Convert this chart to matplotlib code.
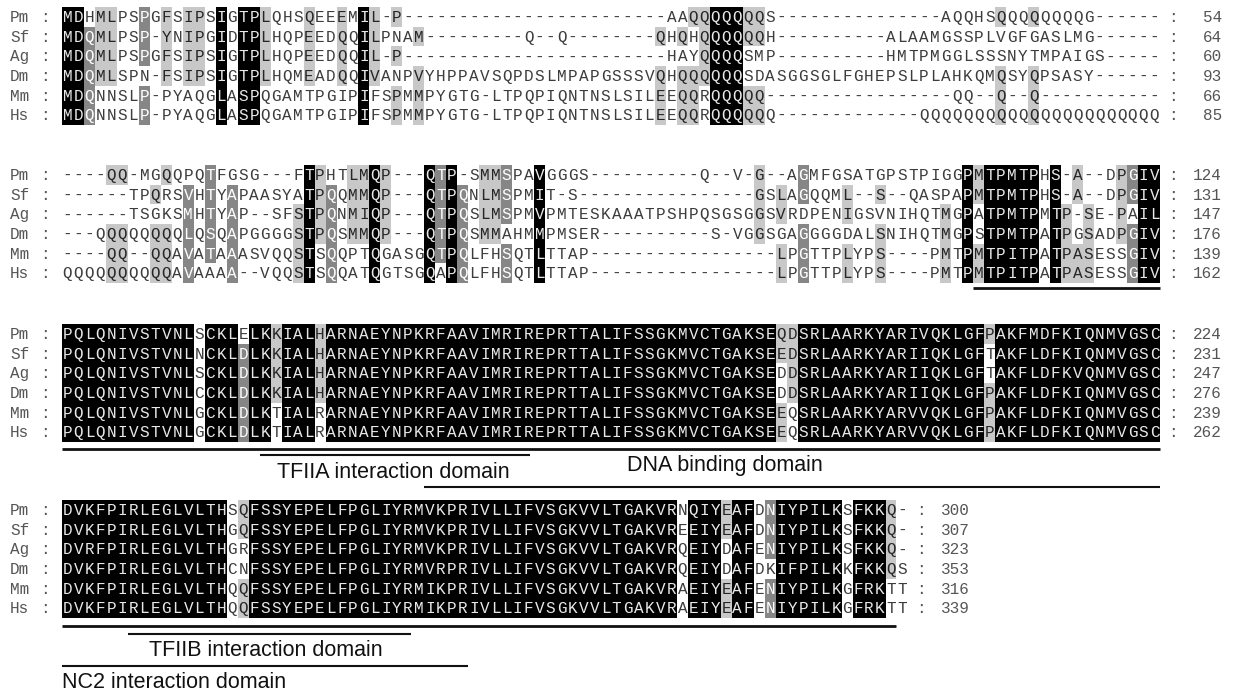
import matplotlib.pyplot as plt
from matplotlib.patches import Rectangle

# sequences (alignment blocks of Pm, Sf, Ag, Dm, Mm, Hs)
species = ['Pm', 'Sf', 'Ag', 'Dm', 'Mm', 'Hs']

block1 = [
    'MDHMLPSPGFSIPSIGTPLQHSQEEEMIL-P' + '-' * 24 + 'AAQQQQQQQS' + '-' * 15 + 'AQQHSQQQQQQQQG' + '-' * 6,
    'MDQMLPSP-YNIPGIDTPLHQPEEDQQILPNAM' + '-' * 9 + 'Q--Q' + '-' * 8 + 'QHQHQQQQQQH' + '-' * 10 + 'ALAAMGSSPLVGFGASLMG' + '-' * 6,
    'MDQMLPSPGFSIPSIGTPLHQPEEDQQIL-P' + '-' * 24 + 'HAYQQQQSMP' + '-' * 10 + 'HMTPMGGLSSSNYTMPAIGS' + '-' * 5,
    'MDQMLSPN-FSIPSIGTPLHQMEADQQIVANPV' + 'YHPPAVSQPDSLMPAPGSSSVQHQQQQQQSDASGGS' + 'GLFGHEPSLPLAHKQMQSYQPSASY' + '-' * 6,
    'MDQNNSLP-PYAQGLASPQGAMTPGIPIFSPMM' + 'PYGTG-LTPQPIQNTNSLSILEEQQRQQQQQ-' + '-' * 16 + 'QQ--Q--Q' + '-' * 11,
    'MDQNNSLP-PYAQGLASPQGAMTPGIPIFSPMM' + 'PYGTG-LTPQPIQNTNSLSILEEQQRQQQQQQ' + '-' * 13 + 'Q' * 22,
]
block2 = [
    '----QQ-MGQQPQTFGSG---FTPHTLMQP---QTP-SMMSPAVGGGS' + '-' * 10 + 'Q--V-G--AGMFGSATGPSTPIGGPMTPMTPHS-A--DPGIV',
    '------TPQRSVHTYAPAASYATPQQMMQP---QTPQNLMSPMIT-S' + '-' * 16 + 'GSLAGQQML--S--QASPAPMTPMTPHS-A--DPGIV',
    '------TSGKSMHTYAP--SFSTPQNMIQP---QTPQSLMSPMVPMTESKAAATPSHPQSGSGGSVRDPENIGSVNIHQTMGPATPMTPMTP-SE-PAIL',
    '---QQQQQQQQLQSQAPGGGGSTPQSMMQP---QTPQSMMAHMMPMSER' + '-' * 10 + 'S-VGGSGAGGGGDALSNIHQTMGPSTPMTPATPGSADPGIV',
    '----QQ--QQAVATAAASVQQSTSQQPTQGASGQTPQLFHSQTLTTAP' + '-' * 17 + 'LPGTTPLYPS----PMTPMTPITPATPASESSGIV',
    'QQQQQQQQQQAVAAAA--VQQSTSQQATQGTSGQAPQLFHSQTLTTAP' + '-' * 17 + 'LPGTTPLYPS----PMTPMTPITPATPASESSGIV',
]
block3 = [
    'PQLQNIVSTVNLSCKLELKKIALHARNAEYNPKRFAAVIMRIREPRTTALIFSSGKMVCTGAKSEQDSRLAARKYARIVQKLGFPAKFMDFKIQNMVGSC',
    'PQLQNIVSTVNLNCKLDLKKIALHARNAEYNPKRFAAVIMRIREPRTTALIFSSGKMVCTGAKSEEDSRLAARKYARIIQKLGFTAKFLDFKIQNMVGSC',
    'PQLQNIVSTVNLSCKLDLKKIALHARNAEYNPKRFAAVIMRIREPRTTALIFSSGKMVCTGAKSEDDSRLAARKYARIIQKLGFTAKFLDFKVQNMVGSC',
    'PQLQNIVSTVNLCCKLDLKKIALHARNAEYNPKRFAAVIMRIREPRTTALIFSSGKMVCTGAKSEDDSRLAARKYARIIQKLGFPAKFLDFKIQNMVGSC',
    'PQLQNIVSTVNLGCKLDLKTIALRARNAEYNPKRFAAVIMRIREPRTTALIFSSGKMVCTGAKSEEQSRLAARKYARVVQKLGFPAKFLDFKIQNMVGSC',
    'PQLQNIVSTVNLGCKLDLKTIALRARNAEYNPKRFAAVIMRIREPRTTALIFSSGKMVCTGAKSEEQSRLAARKYARVVQKLGFPAKFLDFKIQNMVGSC',
]
block4 = [
    'DVKFPIRLEGLVLTHSQFSSYEPELFPGLIYRMVKPRIVLLIFVSGKVVLTGAKVRNQIYEAFDNIYPILKSFKKQ-',
    'DVKFPIRLEGLVLTHGQFSSYEPELFPGLIYRMVKPRIVLLIFVSGKVVLTGAKVREEIYEAFDNIYPILKSFKKQ-',
    'DVRFPIRLEGLVLTHGRFSSYEPELFPGLIYRMVKPRIVLLIFVSGKVVLTGAKVRQEIYDAFENIYPILKSFKKQ-',
    'DVKFPIRLEGLVLTHCNFSSYEPELFPGLIYRMVRPRIVLLIFVSGKVVLTGAKVRQEIYDAFDKIFPILKKFKKQS',
    'DVKFPIRLEGLVLTHQQFSSYEPELFPGLIYRMIKPRIVLLIFVSGKVVLTGAKVRAEIYEAFENIYPILKGFRKTT',
    'DVKFPIRLEGLVLTHQQFSSYEPELFPGLIYRMIKPRIVLLIFVSGKVVLTGAKVRAEIYEAFENIYPILKGFRKTT',
]
ends1 = [54, 64, 60, 93, 66, 85]
ends2 = [124, 131, 147, 176, 139, 162]
ends3 = [224, 231, 247, 276, 239, 262]
ends4 = [300, 307, 323, 353, 316, 339]

# (block, first column boundary, last column boundary)
underlines = [(1, 83, 100), (2, 0, 100), (3, 0, 76)]
# (label, block, line start, line end, text position, text alignment)
domains = [
    ('TFIIA interaction domain', 2, 18, 42.6, 30.2, 'center'),
    ('DNA binding domain', 2, 33, 100, 51.5, 'left'),
    ('TFIIB interaction domain', 3, 6, 31.8, 18.6, 'center'),
    ('NC2 interaction domain', 3, 0, 37, 0, 'left'),
]

blocks = [block1, block2, block3, block4]
ends = [ends1, ends2, ends3, ends4]

# check residue counts against the numbers at the row ends
prev = [0] * len(species)
for b, (rows, e) in enumerate(zip(blocks, ends)):
    for i, r in enumerate(rows):
        n = len(r) - r.count('-')
        if prev[i] + n != e[i] or len(r) != len(rows[0]):
            print('check block', b + 1, species[i], len(r), prev[i] + n, e[i])
    prev = e

# similarity groups as in GeneDoc
groups = ['DN', 'EQ', 'ST', 'KR', 'FYW', 'LIVM']


def grp(a):
    for g in groups:
        if a in g:
            return g
    return a


def levels_of(rows):
    ns = len(rows)
    lv = [[0] * len(rows[0]) for _ in rows]
    for c in range(len(rows[0])):
        col = [r[c] for r in rows]
        keys = [grp(a) for a in col if a != '-']
        if not keys:
            continue
        best = max(set(keys), key=keys.count)
        n = keys.count(best)
        if n == ns:
            L = 3
        elif n >= 0.8 * ns:
            L = 2
        elif n >= 0.6 * ns:
            L = 1
        else:
            L = 0
        for i, a in enumerate(col):
            if a != '-' and grp(a) == best:
                lv[i][c] = L
    return lv


bg = {1: '#c8c8c8', 2: '#868686', 3: '#000000'}
fg = {0: '#3c3c3c', 1: '#262626', 2: '#ffffff', 3: '#e8e8e8'}

X0 = 62.0
CW = 10.98
PITCH = 19.6
block_y = [17, 175, 334, 510]
underline_y = [None, 287.5, 449, 626]
domain_line_y = {'TFIIA interaction domain': 455, 'DNA binding domain': 487,
                 'TFIIB interaction domain': 634, 'NC2 interaction domain': 666}
domain_text_y = {'TFIIA interaction domain': 477.5, 'DNA binding domain': 471.5,
                 'TFIIB interaction domain': 656.5, 'NC2 interaction domain': 688}

fig = plt.figure(figsize=(12.33, 6.90), dpi=100)
ax = fig.add_axes([0, 0, 1, 1])
ax.set_xlim(0, 1233)
ax.set_ylim(690, 0)
ax.axis('off')

mono = 'Liberation Mono'
for b, rows in enumerate(blocks):
    lv = levels_of(rows)
    ncol = len(rows[0])
    for i, r in enumerate(rows):
        yc = block_y[b] + i * PITCH
        # shaded runs
        c = 0
        while c < ncol:
            L = lv[i][c]
            c2 = c
            while c2 < ncol and lv[i][c2] == L:
                c2 += 1
            if L > 0:
                ax.add_patch(Rectangle((X0 + c * CW, yc - PITCH / 2), (c2 - c) * CW, PITCH,
                                       facecolor=bg[L], edgecolor='none', antialiased=False))
            c = c2
        for c, ch in enumerate(r):
            ax.text(X0 + (c + 0.5) * CW, yc + 5.2, ch, ha='center', va='baseline',
                    family=mono, fontsize=11.5, color=fg[lv[i][c]])
        ax.text(10, yc + 5.2, species[i], ha='left', va='baseline', family=mono,
                fontsize=11.5, color='#555555')
        ax.text(45, yc + 5.2, ':', ha='center', va='baseline', family=mono,
                fontsize=11.5, color='#555555')
        xcol = X0 + ncol * CW + 13
        ax.text(xcol, yc + 5.2, ':', ha='center', va='baseline', family=mono,
                fontsize=11.5, color='#555555')
        ax.text(xcol + 49, yc + 5.2, str(ends[b][i]), ha='right', va='baseline',
                family=mono, fontsize=11.5, color='#555555')

for b, c0, c1 in underlines:
    ax.plot([X0 + c0 * CW, X0 + c1 * CW], [underline_y[b]] * 2, color='#111111',
            lw=2.0, solid_capstyle='butt')

for name, b, c0, c1, ct, al in domains:
    ax.plot([X0 + c0 * CW, X0 + c1 * CW], [domain_line_y[name]] * 2, color='#111111',
            lw=1.5, solid_capstyle='butt')
    ax.text(X0 + ct * CW, domain_text_y[name], name, ha=al, va='baseline',
            family='Liberation Sans', fontsize=15.5, color='#111111')

fig.savefig('out.png', dpi=100)
